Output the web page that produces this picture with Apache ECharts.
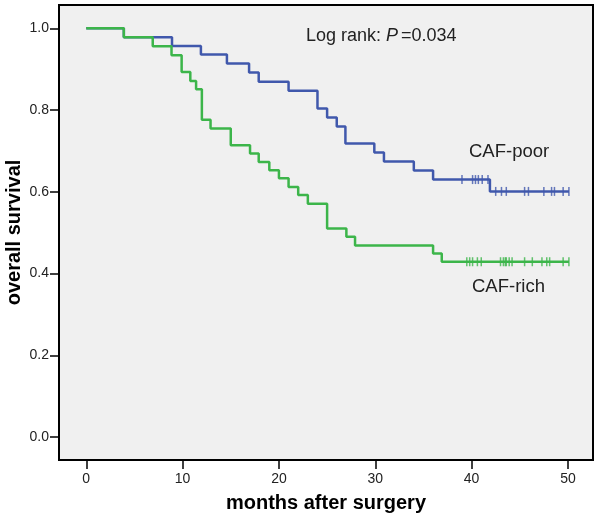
<!DOCTYPE html>
<html>
<head>
<meta charset="utf-8">
<script src="https://cdn.jsdelivr.net/npm/echarts@6/dist/echarts.min.js"></script>
<style>html,body{margin:0;padding:0;background:#fff}#c{width:600px;height:518px}</style>
</head>
<body>
<div id="c"></div>
<script>
// CAF-poor: [months, survival] at each event
var poorSteps = [[0,1.0],[3.9,0.978],[8.9,0.957],[11.9,0.936],[14.6,0.914],[16.9,0.892],[17.9,0.869],[21.0,0.847],[24.0,0.804],[25.0,0.782],[26.0,0.760],[26.9,0.718],[29.9,0.696],[30.9,0.674],[34.0,0.652],[36.0,0.630],[41.9,0.601],[50.1,0.601]];
var poorCensor = [[39.0,0.630],[40.1,0.630],[40.4,0.630],[40.7,0.630],[41.1,0.630],[41.7,0.630],[42.5,0.601],[43.1,0.601],[43.6,0.601],[45.5,0.601],[45.9,0.601],[47.5,0.601],[48.3,0.601],[48.6,0.601],[49.5,0.601],[50.1,0.601]];
// CAF-rich
var richSteps = [[0,1.0],[3.9,0.978],[6.9,0.956],[8.85,0.934],[9.9,0.893],[10.8,0.871],[11.4,0.851],[12.0,0.776],[12.9,0.755],[15.0,0.714],[17.0,0.694],[17.9,0.673],[19.0,0.653],[20.0,0.633],[21.0,0.612],[22.0,0.592],[23.0,0.571],[25.0,0.510],[27.0,0.490],[27.9,0.469],[36.0,0.449],[36.9,0.429],[50.1,0.429]];
var richCensor = [[39.5,0.429],[39.8,0.429],[40.1,0.429],[40.6,0.429],[41.0,0.429],[43.0,0.429],[43.3,0.429],[43.5,0.429],[43.6,0.429],[43.9,0.429],[44.2,0.429],[45.5,0.429],[46.3,0.429],[47.3,0.429],[47.8,0.429],[48.1,0.429],[49.5,0.429],[50.1,0.429]];
var xTicks = [0,10,20,30,40,50];
var yTicks = [0,0.2,0.4,0.6,0.8,1.0];

var blue = '#4058ac', green = '#3cb54a';
var chart = echarts.init(document.getElementById('c'), null, {renderer:'canvas'});
var font = 'Liberation Sans, Arial, sans-serif';
chart.setOption({
  animation:false,
  backgroundColor:'#ffffff',
  grid:{left:59,right:7,top:5,bottom:58,outerBoundsMode:'none',containLabel:false,show:true,backgroundColor:'#f0f0f0',borderColor:'#000',borderWidth:2},
  xAxis:{type:'value',min:-2.83,max:52.6,
    axisLine:{show:false,onZero:false},splitLine:{show:false},
    axisTick:{show:true,inside:false,length:9,lineStyle:{color:'#000',width:1.5},customValues:xTicks},
    axisLabel:{customValues:xTicks,color:'#222',fontSize:14,fontFamily:font,margin:12},
    name:'months after surgery',nameLocation:'middle',nameGap:33,nameMoveOverlap:false,
    nameTextStyle:{fontSize:20,fontWeight:'bold',color:'#000',fontFamily:font}},
  yAxis:{type:'value',min:-0.056,max:1.057,
    axisLine:{show:false,onZero:false},splitLine:{show:false},
    axisTick:{show:true,inside:false,length:9,lineStyle:{color:'#000',width:1.5},customValues:yTicks},
    axisLabel:{customValues:yTicks,color:'#222',fontSize:14,fontFamily:font,margin:10,formatter:function(v){return v.toFixed(1);}},
    name:'overall survival',nameLocation:'middle',nameGap:35,nameMoveOverlap:false,
    nameTextStyle:{fontSize:20,fontWeight:'bold',color:'#000',fontFamily:font}},
  series:[
    {type:'line',step:'end',data:poorSteps,symbol:'none',lineStyle:{color:blue,width:2.5},z:3},
    {type:'line',step:'end',data:richSteps,symbol:'none',lineStyle:{color:green,width:2.5},z:3},
    {type:'scatter',data:poorCensor,symbol:'rect',symbolSize:[1.5,9],itemStyle:{color:blue},z:4},
    {type:'scatter',data:richCensor,symbol:'rect',symbolSize:[1.5,9],itemStyle:{color:green},z:4}
  ],
  graphic:[
    {type:'text',left:306,top:27,style:{text:'{n|Log rank: }{i|P}{n|=0.034}',rich:{n:{fontSize:18,fontFamily:font,fill:'#222'},i:{fontSize:18,fontFamily:font,fontStyle:'italic',fill:'#222',padding:[0,3,0,0]}}}},
    {type:'text',left:469,top:142,style:{text:'CAF-poor',fontSize:18.5,fontFamily:font,fill:'#222'}},
    {type:'text',left:472,top:277,style:{text:'CAF-rich',fontSize:18.5,fontFamily:font,fill:'#222'}}
  ]
});
</script>
</body>
</html>
